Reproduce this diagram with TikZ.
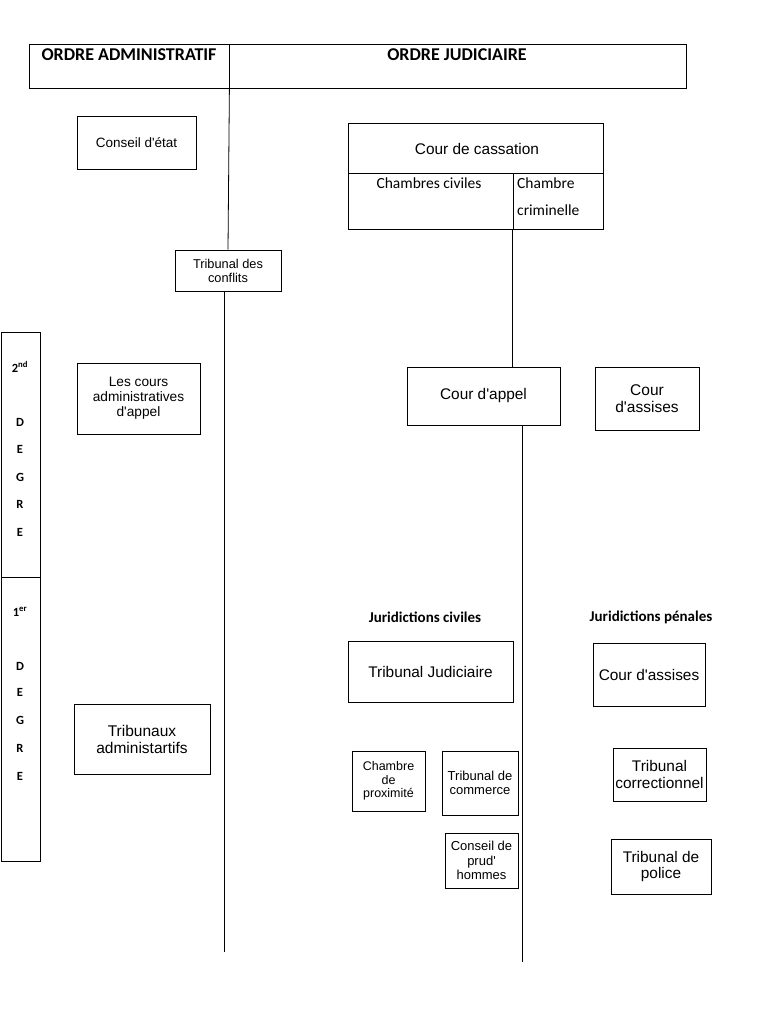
\documentclass[tikz,border=0pt]{standalone}
\usepackage{fontspec}
\setmainfont{Liberation Sans}[Ligatures=TeXOff]
\newfontfamily\calib{Carlito}
\begin{document}
\begin{tikzpicture}[x=1pt,y=-1pt,
  box/.style={draw,line width=0.8pt,inner sep=0pt,align=center},
  fs/.style={font=\fontsize{#1}{1.1\dimexpr #1pt\relax}\selectfont},
  hd/.style={font=\calib\bfseries\fontsize{18}{20}\selectfont},
  deg/.style={font=\calib\bfseries\fontsize{12.5}{14}\selectfont},
  cal/.style={font=\calib\fontsize{15.5}{17}\selectfont},
  jur/.style={font=\calib\bfseries\fontsize{15}{17}\selectfont},
  conn/.style={line width=0.8pt}]
\useasboundingbox (0,0) rectangle (768,1024);
% header
\node[box,minimum width=200,minimum height=44] (hadm) at (129,66) {};
\node[box,minimum width=457,minimum height=44] (hjud) at (457.5,66) {};
\node[hd] (thadm) at (129,55) {ORDRE ADMINISTRATIF};
\node[hd] (thjud) at (457,55) {ORDRE JUDICIAIRE};
% administrative
\node[box,fs=13.5,minimum width=119,minimum height=53] (ce) at (136.5,142.5) {Conseil d'état};
\node[box,fs=12.8,minimum width=106,minimum height=41] (tc) at (228,270.5) {Tribunal des\\conflits};
\node[box,fs=13.7,minimum width=123,minimum height=71] (caa) at (138.5,398.5) {Les cours\\administratives\\d'appel};
\node[box,fs=15.5,minimum width=136,minimum height=70] (ta) at (142,739) {Tribunaux\\administartifs};
% judiciary
\node[box,minimum width=255,minimum height=50] (cass) at (475.5,148) {};
\node[fs=15.4] (tcass) at (477,149) {Cour de cassation};
\node[box,minimum width=165,minimum height=56] (chciv) at (430.5,201) {};
\node[box,minimum width=90,minimum height=56] (chcrim) at (558,201) {};
\node[cal] (tchciv) at (429,183) {Chambres civiles};
\node[cal,anchor=west,inner sep=0pt] (tchcr1) at (517,183) {Chambre};
\node[cal,anchor=west,inner sep=0pt] (tchcr2) at (517,210) {criminelle};
\node[box,fs=15.4,minimum width=153,minimum height=58] (ca) at (483.5,396) {Cour d'appel};
\node[box,fs=15.5,minimum width=104,minimum height=63] (cass1) at (647,398.5) {Cour\\d'assises};
\node[jur] (jciv) at (425,617) {Juridictions civiles};
\node[jur] (jpen) at (651,617) {Juridictions pénales};
\node[box,fs=15.4,minimum width=165,minimum height=61] (tj) at (430.5,671.5) {Tribunal Judiciaire};
\node[box,fs=15.4,minimum width=112,minimum height=63] (cass2) at (649,674.5) {Cour d'assises};
\node[box,fs=12.5,minimum width=73,minimum height=60] (cp) at (388.5,781) {Chambre\\de\\proximité};
\node[box,fs=13,minimum width=76,minimum height=64] (tcom) at (480,783) {Tribunal de\\commerce};
\node[box,fs=13,minimum width=73,minimum height=55] (cph) at (481.5,860.5) {Conseil de\\prud'\\hommes};
\node[box,fs=15.4,minimum width=93,minimum height=53] (tcor) at (659.5,774.5) {Tribunal\\correctionnel};
\node[box,fs=15.4,minimum width=100,minimum height=55] (tpol) at (661,866.5) {Tribunal de\\police};
% degree column
\node[box,minimum width=39,minimum height=245] (deg2) at (20.5,454.5) {};
\node[box,minimum width=39,minimum height=284] (deg1) at (20.5,719) {};
\node[deg] (d2) at (20,367) {2\textsuperscript{nd}};
\node[deg] (d2a) at (20,422) {D};
\node[deg] (d2b) at (20,449) {E};
\node[deg] (d2c) at (20,477) {G};
\node[deg] (d2d) at (20,504) {R};
\node[deg] (d2e) at (20,532) {E};
\node[deg] (d1) at (20,612) {1\textsuperscript{er}};
\node[deg] (d1a) at (20,666) {D};
\node[deg] (d1b) at (20,692) {E};
\node[deg] (d1c) at (20,720) {G};
\node[deg] (d1d) at (20,748) {R};
\node[deg] (d1e) at (20,776) {E};
% connectors
\coordinate (aend) at (224,952);
\coordinate (jend) at (522,962);
\draw[conn] (hadm.south east) -- (tc.north);
\draw[conn] (tc.south -| aend) -- (aend);
\draw[conn] (chcrim.south west) -- (chcrim.south west |- ca.north);
\draw[conn] (ca.south -| jend) -- (jend);
\end{tikzpicture}
\end{document}
